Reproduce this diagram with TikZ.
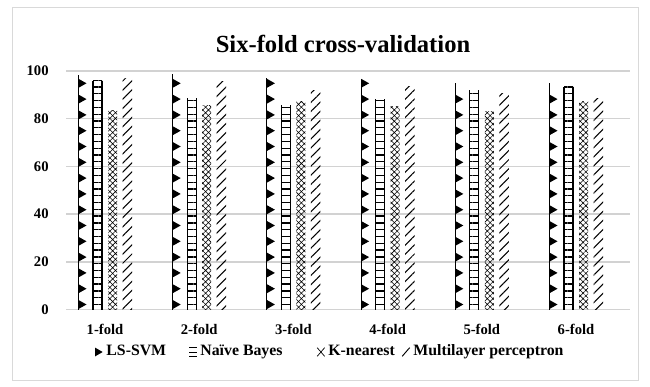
\documentclass[tikz,border=0pt]{standalone}
\usepackage{fontspec}
\setmainfont{Liberation Serif}
\usetikzlibrary{patterns.meta,positioning}

\tikzset{
  framebox/.style={draw=gray!30, line width=0.8pt},
  gridline/.style={draw=gray!35, line width=1.3pt},
  titletext/.style={font=\bfseries\fontsize{21}{24}\selectfont},
  ticktext/.style={font=\bfseries\fontsize{12.5}{14}\selectfont, inner sep=1pt},
  legtext/.style={font=\bfseries\fontsize{13.5}{15}\selectfont, inner sep=1pt,
    text height=1.7ex, text depth=0.45ex},
  swatch/.style={minimum width=6pt, minimum height=7pt, inner sep=0pt},
  nbbar/.style={pattern={Lines[angle=0,distance=5.8pt,line width=1.1pt]}},
  knbar/.style={pattern={Hatch[angle=45,distance=3.4pt,line width=0.5pt]}},
  mlpbar/.style={pattern={Lines[angle=45,distance=5.5pt,line width=0.9pt]}},
}

\begin{document}
\begin{tikzpicture}[x=0.03cm,y=-0.03cm]
\useasboundingbox (0,0) rectangle (650,386);
\draw[framebox] (12,7) rectangle (638,380);
\node[titletext] (title) at (343,44) {Six-fold cross-validation};
% gridlines and value axis
\foreach \v in {0,20,...,100} {
  \pgfmathsetmacro\gy{309.5-2.385*\v}
  \coordinate (gl\v) at (66,\gy);
  \coordinate (gr\v) at (630,\gy);
  \draw[gridline] (gl\v) -- (gr\v);
  \node[ticktext, anchor=east] (yl\v) at (50,\gy) {\v};
}
% one group of bars per fold
\foreach \f/\a/\b/\c/\d [count=\i from 0] in {1-fold/98.3/95.9/83.6/96.9, 2-fold/98.7/88.6/85.7/95.5, 3-fold/96.9/85.7/87.1/92.0, 4-fold/95.9/88.1/85.0/93.7, 5-fold/95.1/92.0/82.9/90.6, 6-fold/95.1/93.4/87.1/88.6} {
  \pgfmathsetmacro\cx{105+94.2*\i}
  % LS-SVM
  \draw[line width=0.7pt] (\cx-26.5,309.5) -- (\cx-26.5,309.5-2.385*\a);
  \pgfmathtruncatemacro\n{(\a*2.385-6)/15.8}
  \foreach \k in {0,...,\n} {
    \pgfmathsetmacro\ty{304.5-15.8*\k}
    \fill (\cx-26.5,\ty-4.5) -- (\cx-18.5,\ty) -- (\cx-26.5,\ty+4.5) -- cycle;
  }
  % Naive Bayes
  \path[nbbar] (\cx-12,309.5) rectangle (\cx-3,309.5-2.385*\b);
  \draw[line width=0.9pt] (\cx-12,309.5) -- (\cx-12,309.5-2.385*\b);
  \draw[line width=0.9pt] (\cx-3,309.5) -- (\cx-3,309.5-2.385*\b);
  % K-nearest
  \path[knbar] (\cx+3,309.5) rectangle (\cx+12,309.5-2.385*\c);
  % Multilayer perceptron
  \path[mlpbar] (\cx+17.5,309.5) rectangle (\cx+27,309.5-2.385*\d);
  \node[ticktext] (cat\i) at (\cx,329) {\f};
}
% legend
\node[legtext, anchor=west] (leg1) at (105,352) {LS-SVM};
\node[legtext, anchor=west] (leg2) at (199,352) {Naïve Bayes};
\node[legtext, anchor=west] (leg3) at (327,352) {K-nearest};
\node[legtext, anchor=west] (leg4) at (412,352) {Multilayer perceptron};
\node[swatch, left=2pt of leg1] (sw1) {};
\node[swatch, left=2pt of leg2] (sw2) {};
\node[swatch, left=2pt of leg3] (sw3) {};
\node[swatch, left=2pt of leg4] (sw4) {};
\fill (sw1.north west) -- (sw1.east) -- (sw1.south west) -- cycle;
\draw[line width=0.7pt] (sw2.north west) -- (sw2.north east) (sw2.west) -- (sw2.east) (sw2.south west) -- (sw2.south east);
\draw[line width=0.6pt] (sw3.north west) -- (sw3.south east) (sw3.north east) -- (sw3.south west);
\draw[line width=0.8pt] (sw4.south west) -- (sw4.north east);
\end{tikzpicture}
\end{document}
